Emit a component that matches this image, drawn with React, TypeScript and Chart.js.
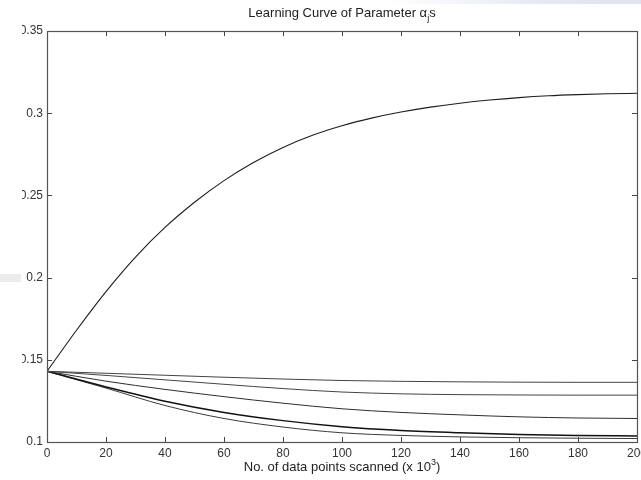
import React, { useEffect, useRef } from "react";
import { Chart, registerables } from "chart.js";

Chart.register(...registerables);

// ---- data ----
const xTop = [0, 10, 20, 30, 40, 50, 60, 70, 80, 90, 100, 110, 120, 130, 140, 150, 160, 170, 180, 190, 200];
const alphaRising = [0.143, 0.168, 0.1915, 0.2125, 0.2305, 0.2458, 0.259, 0.27, 0.2792, 0.2866, 0.2924, 0.297, 0.3007, 0.3037, 0.3061, 0.308, 0.3095, 0.3106, 0.3113, 0.3118, 0.3121];

const xLow = [0, 20, 40, 60, 80, 100, 120, 140, 160, 180, 200];
const alphaA = [0.143, 0.1418, 0.1406, 0.1394, 0.1383, 0.1374, 0.1369, 0.1366, 0.1364, 0.1363, 0.1363];
const alphaB = [0.143, 0.1405, 0.1378, 0.1351, 0.1325, 0.1304, 0.1293, 0.1288, 0.1286, 0.1285, 0.1285];
const alphaC = [0.143, 0.137, 0.132, 0.1276, 0.1236, 0.1202, 0.118, 0.1165, 0.1153, 0.1146, 0.1143];
const alphaD = [0.143, 0.1335, 0.1248, 0.118, 0.113, 0.1093, 0.107, 0.1056, 0.1046, 0.104, 0.1036];
const alphaE = [0.143, 0.1328, 0.1222, 0.1143, 0.1091, 0.1056, 0.104, 0.1031, 0.1026, 0.1023, 0.1021];

const xTickValues = [0, 20, 40, 60, 80, 100, 120, 140, 160, 180, 200];
const yTickValues = [0.1, 0.15, 0.2, 0.25, 0.3, 0.35];
const yTickLabels = ["0.1", "0.15", "0.2", "0.25", "0.3", "0.35"];

const titleMain = "Learning Curve of Parameter α";
const titleSub = "j";
const titleTail = "s";
const xAxisTitleMain = "No. of data points scanned (x 10";
const xAxisTitleSup = "3";
const xAxisTitleTail = ")";

const FONT = "'Liberation Sans', Arial, sans-serif";

function pts(xs: number[], ys: number[]) {
  return xs.map((x, i) => ({ x, y: ys[i] }));
}

function drawPieces(ctx: any, cx: number, y: number, pieces: { t: string; size: number; dy: number }[]) {
  const widths = pieces.map((p) => {
    ctx.font = `${p.size}px ${FONT}`;
    return ctx.measureText(p.t).width;
  });
  const total = widths.reduce((a, b) => a + b, 0);
  let x = cx - total / 2;
  pieces.forEach((p, i) => {
    ctx.font = `${p.size}px ${FONT}`;
    ctx.fillText(p.t, x, y + p.dy);
    x += widths[i];
  });
}

const framePlugin = {
  id: "matlabFrame",
  afterDraw(chart: any) {
    const { ctx, chartArea } = chart;
    const { left, right, top, bottom } = chartArea;
    const xs = chart.scales.x;
    const ys = chart.scales.y;
    ctx.save();
    // inward ticks
    ctx.strokeStyle = "#444";
    ctx.lineWidth = 1;
    const tl = 5;
    ctx.beginPath();
    xTickValues.forEach((v) => {
      const px = Math.round(xs.getPixelForValue(v)) + 0.5;
      ctx.moveTo(px, bottom);
      ctx.lineTo(px, bottom - tl);
      ctx.moveTo(px, top);
      ctx.lineTo(px, top + tl);
    });
    yTickValues.forEach((v) => {
      const py = Math.round(ys.getPixelForValue(v)) + 0.5;
      ctx.moveTo(left, py);
      ctx.lineTo(left + tl, py);
      ctx.moveTo(right, py);
      ctx.lineTo(right - tl, py);
    });
    ctx.stroke();
    // box
    ctx.strokeStyle = "#555";
    ctx.lineWidth = 1.2;
    ctx.strokeRect(Math.round(left) + 0.5, Math.round(top) + 0.5, Math.round(right - left), Math.round(bottom - top));

    const cx = (left + right) / 2;
    ctx.fillStyle = "#222";
    ctx.textAlign = "left";
    ctx.textBaseline = "alphabetic";
    // title with subscript j
    drawPieces(ctx, cx, 17, [
      { t: titleMain, size: 13, dy: 0 },
      { t: titleSub, size: 9, dy: 4 },
      { t: titleTail, size: 13, dy: 0 },
    ]);
    // x axis title with superscript 3
    drawPieces(ctx, cx, 471, [
      { t: xAxisTitleMain, size: 13, dy: 0 },
      { t: xAxisTitleSup, size: 9, dy: -6 },
      { t: xAxisTitleTail, size: 13, dy: 0 },
    ]);
    ctx.restore();
  },
};

export default function App() {
  const ref = useRef<HTMLCanvasElement | null>(null);

  useEffect(() => {
    if (!ref.current) return;
    const lineDs = (label: string, data: any[], color: string, width: number) => ({
      label,
      data,
      borderColor: color,
      borderWidth: width,
      pointRadius: 0,
      fill: false,
      cubicInterpolationMode: "monotone" as const,
    });
    const chart = new Chart(ref.current, {
      type: "line",
      data: {
        datasets: [
          lineDs("rising", pts(xTop, alphaRising), "#1e1e1e", 1.1),
          lineDs("a", pts(xLow, alphaA), "#444", 1),
          lineDs("b", pts(xLow, alphaB), "#444", 1),
          lineDs("c", pts(xLow, alphaC), "#2e2e2e", 1),
          lineDs("d", pts(xLow, alphaD), "#111", 1.5),
          lineDs("e", pts(xLow, alphaE), "#3a3a3a", 1),
        ],
      },
      options: {
        animation: false,
        responsive: false,
        devicePixelRatio: 1,
        events: [],
        layout: { padding: { left: 0, right: 15, top: 31, bottom: 0 } },
        plugins: {
          legend: { display: false },
          tooltip: { enabled: false },
          title: { display: false },
        },
        scales: {
          x: {
            type: "linear",
            min: 0,
            max: 200,
            grid: { display: false, drawTicks: false },
            border: { display: false },
            afterFit: (s: any) => {
              s.height = 38;
            },
            afterBuildTicks: (s: any) => {
              s.ticks = xTickValues.map((v) => ({ value: v }));
            },
            ticks: {
              autoSkip: false,
              maxRotation: 0,
              padding: 4,
              color: "#333",
              font: { family: FONT, size: 12 },
              callback: (v: any) => String(v),
            },
          },
          y: {
            type: "linear",
            min: 0.1,
            max: 0.35,
            grid: { display: false, drawTicks: false },
            border: { display: false },
            afterFit: (s: any) => {
              s.width = 25;
            },
            afterBuildTicks: (s: any) => {
              s.ticks = yTickValues.map((v) => ({ value: v }));
            },
            ticks: {
              autoSkip: false,
              padding: 4,
              color: "#333",
              font: { family: FONT, size: 12 },
              callback: (_v: any, i: number) => yTickLabels[i],
            },
          },
        },
      },
      plugins: [framePlugin],
    });
    return () => chart.destroy();
  }, []);

  return (
    <div style={{ position: "fixed", left: 0, top: 0, width: 641, height: 480, overflow: "hidden", background: "#fff" }}>
      <div
        style={{
          position: "absolute",
          left: 0,
          top: 0,
          width: 641,
          height: 4,
          background: "linear-gradient(to right, rgba(255,255,255,0) 60%, #e4e9f2 85%, #dde4ef 100%)",
        }}
      />
      <div style={{ position: "absolute", left: 0, top: 274, width: 21, height: 8, background: "#ececec" }} />
      <canvas ref={ref} width={630} height={480} style={{ position: "absolute", left: 22, top: 0, width: 630, height: 480 }} />
    </div>
  );
}
